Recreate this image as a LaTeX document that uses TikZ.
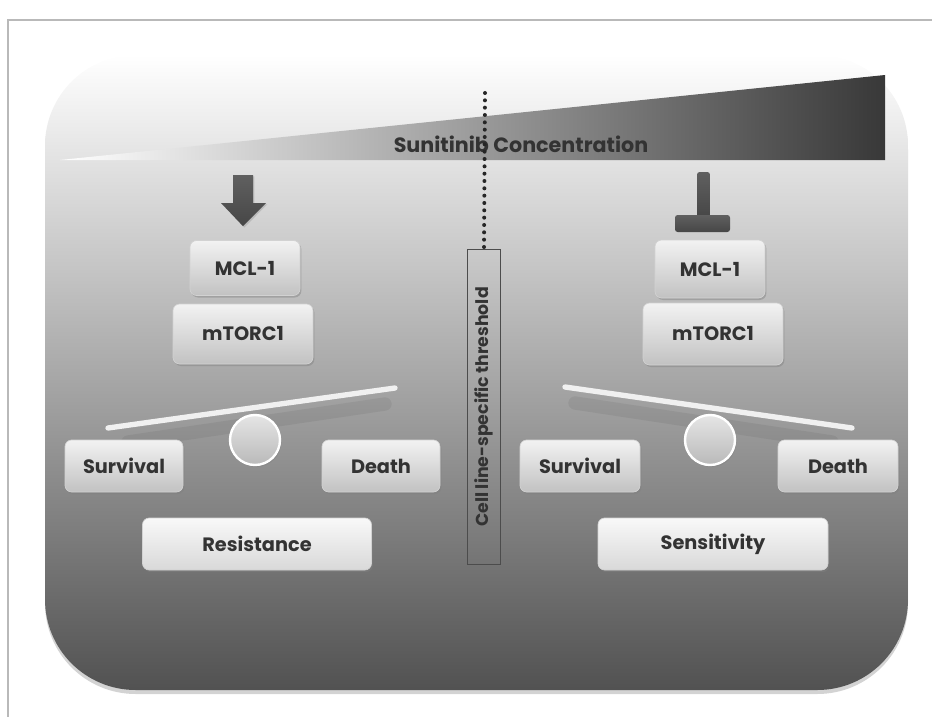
\documentclass[tikz,border=0pt]{standalone}
\usepackage{fontspec}
\setmainfont{Poppins}
\usetikzlibrary{shadows, shapes.arrows, positioning, calc}

\begin{document}
\begin{tikzpicture}[x=0.75pt,y=-0.75pt,
  btn/.style={rounded corners=5pt, top color=gray!10, bottom color=gray!48, draw=gray!35, line width=0.5pt,
    drop shadow={shadow xshift=1pt, shadow yshift=-1.5pt, opacity=0.45},
    font=\fontsize{14.5}{17}\selectfont\bfseries, text=black!80, inner sep=0pt},
  knob/.style={circle, minimum size=50*0.75pt, top color=gray!20, bottom color=gray!55, draw=white, line width=1.8pt,
    drop shadow={shadow xshift=1pt, shadow yshift=-1.5pt, opacity=0.4}},
  beam/.style={line width=4pt, color=gray!12, line cap=round},
  beamshade/.style={line width=10pt, color=black, opacity=0.06, line cap=round},
  inhib/.style={rounded corners=2pt, top color=gray!75!black, bottom color=gray!55!black}]
\useasboundingbox (0,0) rectangle (932,717);
% frame of the figure
\draw[gray!55, line width=0.8pt] (8,717) -- (8,20) -- (932,20);
% background panel
\path[rounded corners=68pt, top color=white, bottom color=black!68,
  drop shadow={shadow xshift=0pt, shadow yshift=-3pt, opacity=0.35}]
  (45,55) rectangle (908,690);
% concentration wedge
\path[left color=white, right color=black!78] (60,160) -- (885,75) -- (885,160) -- cycle;
\node[font=\fontsize{15.5}{18}\selectfont\bfseries, text=black!80] (conc) at (521,144) {Sunitinib Concentration};

% threshold
\node[draw=black!70, line width=0.6pt, rotate=90, minimum width=315*0.75pt, minimum height=33*0.75pt,
  inner sep=0pt, font=\fontsize{13}{15}\selectfont\bfseries, text=black!80] (thr) at (484,407) {Cell line-specific threshold};
\coordinate (dtop) at (485,93);
\draw[black!85, line width=3pt, dash pattern=on 0pt off 5.5pt, line cap=round] (dtop) -- (thr.east);

% left side: resistance
\node[btn, minimum width=110*0.75pt, minimum height=55*0.75pt] (mclL) at (245,268) {MCL-1};
\path[top color=gray!75!black, bottom color=gray!55!black, drop shadow={shadow xshift=1pt, shadow yshift=-1pt, opacity=0.3}]
  (233,175) -- (253,175) -- (253,203) -- (266,203) -- ($(mclL.north)+(-2,-14)$) -- (221,203) -- (233,203) -- cycle;
\node[btn, minimum width=140*0.75pt, minimum height=60*0.75pt] (mtorL) at (243,334) {mTORC1};
\coordinate (bLa) at (108,428);
\coordinate (bLb) at (395,388);
\draw[beamshade] ($(bLa)+(20,14)$) -- ($(bLb)+(-10,16)$);
\draw[beam] (bLa) -- (bLb);
\node[knob] (knobL) at (255,440) {};
\node[btn, minimum width=118*0.75pt, minimum height=52*0.75pt] (survL) at (124,466) {Survival};
\node[btn, minimum width=118*0.75pt, minimum height=52*0.75pt] (deathL) at (381,466) {Death};
\node[btn, minimum width=229*0.75pt, minimum height=52*0.75pt, top color=gray!5, bottom color=gray!30] (resist) at (257,544) {Resistance};

% right side: sensitivity
\path[inhib] (697,172) rectangle (710,218);
\path[inhib] (675,215) rectangle (730,232);
\node[btn, minimum width=110*0.75pt, minimum height=58*0.75pt] (mclR) at (710,269) {MCL-1};
\node[btn, minimum width=140*0.75pt, minimum height=62*0.75pt] (mtorR) at (713,334) {mTORC1};
\coordinate (bRa) at (565,387);
\coordinate (bRb) at (852,428);
\draw[beamshade] ($(bRa)+(10,16)$) -- ($(bRb)+(-20,14)$);
\draw[beam] (bRa) -- (bRb);
\node[knob] (knobR) at (710,440) {};
\node[btn, minimum width=120*0.75pt, minimum height=52*0.75pt] (survR) at (580,466) {Survival};
\node[btn, minimum width=120*0.75pt, minimum height=52*0.75pt] (deathR) at (838,466) {Death};
\node[btn, minimum width=230*0.75pt, minimum height=52*0.75pt, top color=gray!5, bottom color=gray!30] (sens) at (713,544) {Sensitivity};
\end{tikzpicture}
\end{document}
